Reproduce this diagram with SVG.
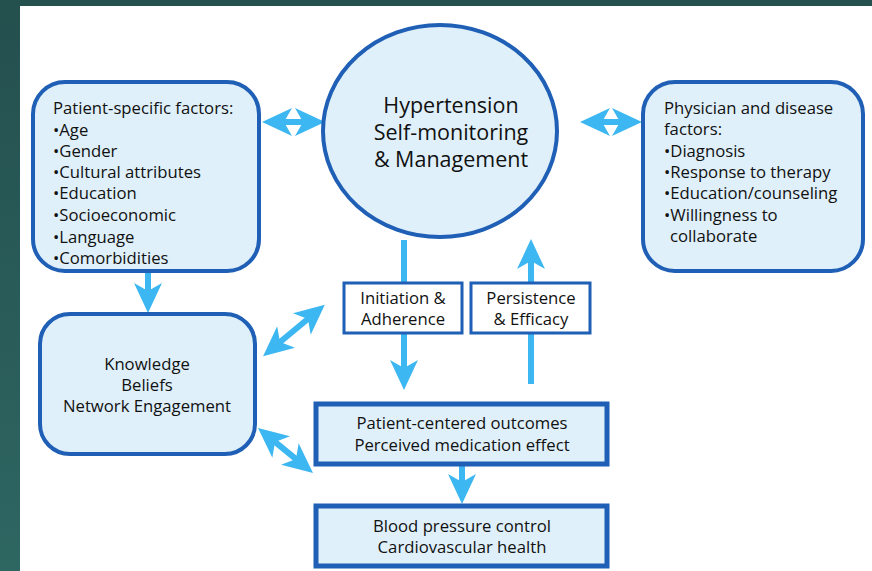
<svg xmlns="http://www.w3.org/2000/svg" width="872" height="571" viewBox="0 0 872 571">
<defs>
<linearGradient id="bg" x1="0" y1="0" x2="0" y2="1">
<stop offset="0" stop-color="#24504e"/>
<stop offset="1" stop-color="#2e6662"/>
</linearGradient>
<marker id="ah" viewBox="0 0 30 28" markerUnits="userSpaceOnUse" markerWidth="30" markerHeight="28" refX="18" refY="14" orient="auto-start-reverse">
<path d="M0,0 L30,14 L0,28 L8,14 Z" fill="#3db7f2"/>
</marker>
<style>
.box{fill:#dff0fa;stroke:#1f5fb5;stroke-width:4}
.sbox{fill:#ffffff;stroke:#1f5fb5;stroke-width:3}
.bbox{fill:#dff0fa;stroke:#1f5fb5;stroke-width:5}
text{font-family:"Open Sans","Liberation Sans",sans-serif;fill:#111111}
.t{font-size:16.7px}
.c{text-anchor:middle}
.big{font-size:21.5px}
.arr{stroke:#3db7f2;stroke-width:6;fill:none}
</style>
</defs>
<rect x="0" y="0" width="872" height="571" fill="url(#bg)"/>
<rect x="20" y="6" width="852" height="565" fill="#ffffff"/>

<g id="connectors">
<line class="arr" x1="274" y1="122" x2="313" y2="122" marker-start="url(#ah)" marker-end="url(#ah)"/>
<line class="arr" x1="592" y1="122" x2="630" y2="122" marker-start="url(#ah)" marker-end="url(#ah)"/>
<line class="arr" x1="148" y1="272" x2="148" y2="301" marker-end="url(#ah)"/>
<line class="arr" x1="404" y1="240" x2="404" y2="378" marker-end="url(#ah)"/>
<line class="arr" x1="531" y1="384" x2="531" y2="251" marker-end="url(#ah)"/>
<line class="arr" x1="272.3" y1="348.5" x2="315.6" y2="312.5" marker-start="url(#ah)" marker-end="url(#ah)"/>
<line class="arr" x1="267.3" y1="435.6" x2="303.7" y2="465.4" marker-start="url(#ah)" marker-end="url(#ah)"/>
<line class="arr" x1="462" y1="466" x2="462" y2="492" marker-end="url(#ah)"/>
</g>

<g id="patient-factors">
<rect class="box" x="33" y="82" width="226" height="189" rx="32"/>
<text class="t" x="53" y="114">Patient-specific factors:</text>
<text class="t" x="53" y="136">•Age</text>
<text class="t" x="53" y="157">•Gender</text>
<text class="t" x="53" y="178">•Cultural attributes</text>
<text class="t" x="53" y="199">•Education</text>
<text class="t" x="53" y="221">•Socioeconomic</text>
<text class="t" x="53" y="243">•Language</text>
<text class="t" x="53" y="264">•Comorbidities</text>
</g>

<g id="hypertension">
<ellipse class="box" cx="440" cy="131" rx="117" ry="106"/>
<text class="big c" x="451" y="113">Hypertension</text>
<text class="big c" x="451" y="140">Self-monitoring</text>
<text class="big c" x="451" y="167">&amp; Management</text>
</g>

<g id="physician-factors">
<rect class="box" x="643" y="82" width="220" height="189" rx="32"/>
<text class="t" x="664" y="114">Physician and disease</text>
<text class="t" x="664" y="135">factors:</text>
<text class="t" x="664" y="157">•Diagnosis</text>
<text class="t" x="664" y="178">•Response to therapy</text>
<text class="t" x="664" y="199">•Education/counseling</text>
<text class="t" x="664" y="221">•Willingness to</text>
<text class="t" x="670" y="242">collaborate</text>
</g>

<g id="knowledge">
<rect class="box" x="40" y="314" width="215" height="140" rx="30"/>
<text class="t c" x="147" y="370">Knowledge</text>
<text class="t c" x="147" y="391">Beliefs</text>
<text class="t c" x="147" y="412">Network Engagement</text>
</g>

<g id="initiation">
<rect class="sbox" x="344" y="283" width="118" height="50"/>
<text class="t c" x="403" y="304">Initiation &amp;</text>
<text class="t c" x="403" y="325">Adherence</text>
</g>

<g id="persistence">
<rect class="sbox" x="471" y="283" width="119" height="50"/>
<text class="t c" x="531" y="304">Persistence</text>
<text class="t c" x="531" y="325">&amp; Efficacy</text>
</g>

<g id="outcomes">
<rect class="bbox" x="316" y="404" width="291" height="60"/>
<text class="t c" x="462" y="429">Patient-centered outcomes</text>
<text class="t c" x="462" y="451">Perceived medication effect</text>
</g>

<g id="bp-control">
<rect class="bbox" x="316" y="506" width="291" height="60"/>
<text class="t c" x="462" y="532">Blood pressure control</text>
<text class="t c" x="462" y="553">Cardiovascular health</text>
</g>
</svg>
